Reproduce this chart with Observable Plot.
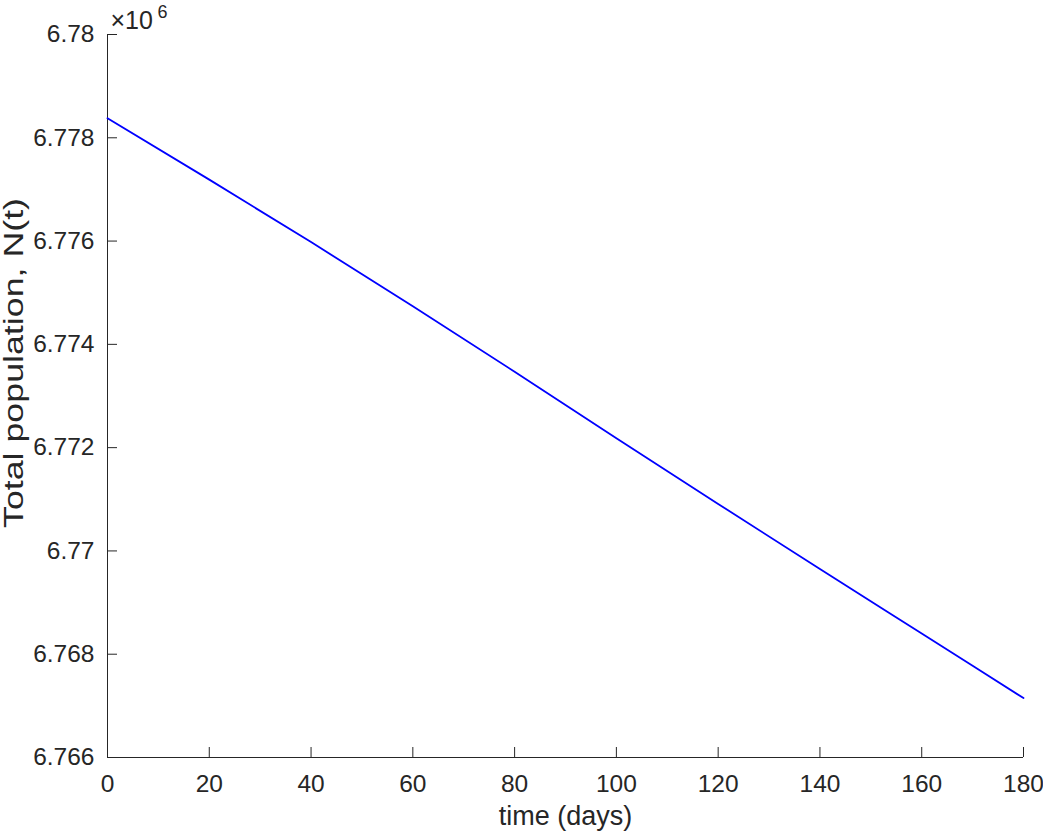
<!DOCTYPE html>
<html><head><meta charset="utf-8">
<script src="https://cdn.jsdelivr.net/npm/d3@7"></script>
<script src="https://cdn.jsdelivr.net/npm/@observablehq/plot@0.6"></script>
<style>body{margin:0;background:#fff} #chart{width:1043px;height:834px}</style>
</head><body><div id="chart"></div>
<script>
// Data (population in units of 10^6)
const days = [0, 20, 40, 60, 80, 100, 120, 140, 160, 180];
const population = [6.77838, 6.77719, 6.77598, 6.77474, 6.77347, 6.77218, 6.77091, 6.76965, 6.76840, 6.76715];
const xTicks = [0, 20, 40, 60, 80, 100, 120, 140, 160, 180];
const yTicks = [6.766, 6.768, 6.770, 6.772, 6.774, 6.776, 6.778, 6.780];
const xLabel = "time (days)";
const yLabel = "Total population, N(t)";

const W = 1043, H = 834, mL = 107, mR = 20, mT = 34, mB = 77;
const data = days.map((d, i) => ({day: d, N: population[i]}));
const axisColor = "#262626";
const fmtY = d => String(+d.toFixed(3));

const plot = Plot.plot({
  width: W, height: H,
  marginLeft: mL, marginRight: mR, marginTop: mT, marginBottom: mB,
  style: {fontFamily: "'Liberation Sans', Arial, sans-serif", fontSize: "24px", color: axisColor, background: "#fff", overflow: "visible"},
  x: {domain: [0, 180]},
  y: {domain: [6.766, 6.780]},
  marks: [
    Plot.ruleX([0], {stroke: axisColor}),
    Plot.ruleY([6.766], {stroke: axisColor}),
    Plot.tickY(yTicks, {stroke: axisColor, insetRight: (W - mL - mR) - 10}),
    Plot.tickX(xTicks, {stroke: axisColor, insetTop: (H - mT - mB) - 10}),
    Plot.axisX(xTicks, {tickSize: 0, tickPadding: 17, label: null, fontSize: 24.5, fill: axisColor}),
    Plot.axisY(yTicks, {tickSize: 0, tickPadding: 13, label: null, fontSize: 24.5, fill: axisColor, tickFormat: fmtY}),
    Plot.line(data, {x: "day", y: "N", stroke: "#0000ff", strokeWidth: 1.8, curve: "monotone-x"}),
    Plot.text([xLabel], {frameAnchor: "bottom", dy: 67, fontSize: 27, fill: axisColor}),
    Plot.text([yLabel], {frameAnchor: "left", textAnchor: "middle", rotate: -90, dx: -93, dy: -33, fontSize: 27, fill: axisColor, className: "ylabel"}),
    Plot.text(["×10"], {frameAnchor: "top-left", textAnchor: "start", lineAnchor: "bottom", dx: 3, dy: -6, fontSize: 25, fill: axisColor}),
    Plot.text(["6"], {frameAnchor: "top-left", textAnchor: "start", lineAnchor: "bottom", dx: 50, dy: -17, fontSize: 18, fill: axisColor})
  ]
});
// stretch the y-axis label to the length it has in the reference
d3.select(plot).selectAll("g.ylabel text").attr("textLength", 330).attr("lengthAdjust", "spacingAndGlyphs");
document.getElementById("chart").appendChild(plot);
</script>
</body></html>
